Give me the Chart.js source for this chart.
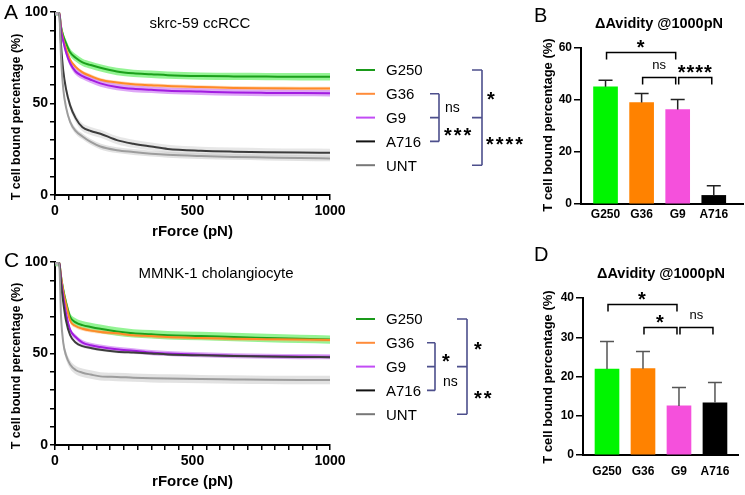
<!DOCTYPE html>
<html>
<head>
<meta charset="utf-8">
<script src="https://cdn.jsdelivr.net/npm/chart.js@4.4.1/dist/chart.umd.min.js"></script>
<style>
  body { margin: 0; background: #fff; }
  #page { position: relative; width: 745px; height: 495px; overflow: hidden; font-family: "Liberation Sans", Arial, sans-serif; }
  canvas { position: absolute; }
  #overlay { position: absolute; left: 0; top: 0; pointer-events: none; }
</style>
</head>
<body>
<div id="page">
  <canvas id="chartA" width="360" height="245" style="left:0;top:0"></canvas>
  <canvas id="chartC" width="360" height="245" style="left:0;top:250px"></canvas>
  <canvas id="chartB" width="215" height="245" style="left:530px;top:0"></canvas>
  <canvas id="chartD" width="215" height="245" style="left:530px;top:250px"></canvas>
  <svg id="overlay" width="745" height="495"></svg>
</div>
<script>
// rForce sample points (pN)
const forces = [0, 15, 22, 30, 40, 55, 75, 100, 130, 165, 225, 285, 350, 410, 530, 650, 770, 890, 1000];
const groups = ['G250', 'G36', 'G9', 'A716', 'UNT'];

// skrc-59 ccRCC - mean T cell bound (%)
const skrcG250 = [100, 100, 92, 87, 83, 78, 75, 72.5, 71, 69.5, 67.5, 66.5, 66, 65.5, 65, 64.8, 64.7, 64.6, 64.6];
const skrcG36  = [100, 100, 91, 85, 80, 74, 70, 67, 65, 63, 61.5, 60.5, 60, 59.5, 59, 58.5, 58.3, 58.2, 58.2];
const skrcG9   = [100, 100, 90, 84, 78, 72, 67.5, 65, 63, 61, 59, 58, 57.5, 57, 56.5, 56, 55.8, 55.7, 55.6];
const skrcA716 = [100, 100, 82, 68, 58, 49, 42, 37, 35, 33.5, 30, 28, 26.5, 25.2, 24.2, 23.7, 23.4, 23.2, 23.1];
const skrcUNT  = [100, 100, 75, 58, 48, 40, 35, 32, 29, 26.5, 24.5, 23.5, 22.6, 22, 21.3, 20.8, 20.5, 20.2, 20];
const skrcSem  = [2.0, 1.0, 1.8, 2.2, 1.6];

// MMNK-1 cholangiocyte - mean T cell bound (%)
const mmnkG250 = [100, 100, 92, 85, 78, 70, 67, 65.5, 64.5, 63.5, 62, 61, 60.5, 60, 59.6, 59, 58.5, 58, 57.6];
const mmnkG36  = [100, 100, 92, 84, 77, 68, 65, 63.5, 62.5, 61.8, 61, 60, 59.5, 59, 58.5, 58, 57.8, 57.6, 57.4];
const mmnkG9   = [100, 100, 90, 81, 72, 63, 59, 56, 54.5, 53.5, 52.3, 51.5, 50.5, 50, 49.3, 48.8, 48.5, 48.3, 48.2];
const mmnkA716 = [100, 100, 88, 78, 68, 60, 56, 54, 53, 52, 51, 50.5, 50, 49.5, 49, 48.6, 48.3, 48.1, 48];
const mmnkUNT  = [100, 100, 70, 56, 49, 44, 41, 39.5, 38.5, 37.5, 37.2, 36.8, 36.5, 36.3, 36, 35.8, 35.6, 35.5, 35.5];
const mmnkSem  = [2.3, 1.0, 1.4, 0.8, 2.3];

// delta avidity @1000pN
const barGroups = ['G250', 'G36', 'G9', 'A716'];
const skrcAvidity = [45.1, 39, 36.3, 3.3];
const skrcAvidityErr = [2.5, 3.5, 3.9, 3.7];
const mmnkAvidity = [21.9, 22, 12.5, 13.3];
const mmnkAvidityErr = [7, 4.4, 4.7, 5.2];

// significance brackets (bar index pairs, level in %, label)
const skrcPairs = [[0, 2], [1, 2], [2, 3]];
const skrcLevels = [58.5, 49, 49];
const skrcMarks = ['*', 'ns', '****'];
const mmnkPairs = [[0, 2], [1, 2], [2, 3]];
const mmnkLevels = [38.5, 32.6, 32.6];
const mmnkMarks = ['*', '*', 'ns'];

const lineColors = ['#1ba01b', '#ff8a28', '#a21ce0', '#3c3c3c', '#9d9d9d'];
const bandColors = ['rgba(60,235,60,0.55)', 'rgba(255,175,100,0.45)', 'rgba(195,95,240,0.55)', 'rgba(175,175,175,0.3)', 'rgba(190,190,190,0.45)'];
const legendColors = ['#1a9a1a', '#ff8c3a', '#c24cf5', '#111', '#777'];
const barColors = ['#00f500', '#ff8200', '#f550dc', '#000'];
const FONT = '"Liberation Sans", Arial, sans-serif';

Chart.defaults.font.family = FONT;
Chart.defaults.color = '#000';

function curveChart(id, means, sems) {
  const lines = [], bands = [];
  means.forEach((m, i) => {
    lines.push({ data: forces.map((f, j) => ({ x: f, y: m[j] })), borderColor: lineColors[i], borderWidth: 2,
      pointRadius: 0, fill: false, cubicInterpolationMode: 'monotone', order: 10 - i });
    bands.push({ data: forces.map((f, j) => ({ x: f, y: Math.min(100, m[j] + sems[i]) })), backgroundColor: bandColors[i],
      borderWidth: 0, pointRadius: 0, fill: '+1', cubicInterpolationMode: 'monotone', order: 30 - 2 * i });
    bands.push({ data: forces.map((f, j) => ({ x: f, y: m[j] - sems[i] })), borderWidth: 0, pointRadius: 0,
      fill: false, cubicInterpolationMode: 'monotone', order: 29 - 2 * i });
  });
  const axisGrid = { drawOnChartArea: false, color: '#000', tickLength: 5, lineWidth: 1.5 };
  return new Chart(document.getElementById(id), {
    type: 'line',
    data: { datasets: bands.concat(lines) },
    options: {
      responsive: false, animation: false,
      layout: { padding: { top: 12, right: 30, left: 0, bottom: 0 } },
      plugins: { legend: { display: false }, tooltip: { enabled: false } },
      scales: {
        x: {
          type: 'linear', min: 0, max: 1000,
          border: { color: '#000', width: 2 }, grid: axisGrid,
          ticks: { stepSize: 50, maxTicksLimit: 21, autoSkip: false, maxRotation: 0, padding: 3,
            font: { size: 14, weight: 'bold' }, callback: v => v % 500 === 0 ? v : '' },
          title: { display: true, text: 'rForce (pN)', font: { size: 15, weight: 'bold' }, padding: { top: 0, bottom: 4 } },
          afterFit: s => { s.height = 50; }
        },
        y: {
          min: 0, max: 100,
          border: { color: '#000', width: 2 }, grid: axisGrid,
          ticks: { stepSize: 10, maxTicksLimit: 11, autoSkip: false, padding: 2, font: { size: 14, weight: 'bold' },
            callback: v => v % 50 === 0 ? v : '' },
          afterFit: s => { s.width = 55; }
        }
      }
    }
  });
}

const errorBarPlugin = {
  id: 'errorBars',
  afterDatasetsDraw(chart, args, opts) {
    const { ctx } = chart;
    const y = chart.scales.y;
    const meta = chart.getDatasetMeta(0);
    ctx.save();
    ctx.strokeStyle = opts.color;
    ctx.lineWidth = 1.5;
    meta.data.forEach((bar, i) => {
      const top = y.getPixelForValue(opts.values[i] + opts.errors[i]);
      ctx.beginPath();
      ctx.moveTo(bar.x, bar.y);
      ctx.lineTo(bar.x, top);
      ctx.moveTo(bar.x - 7, top);
      ctx.lineTo(bar.x + 7, top);
      ctx.stroke();
    });
    ctx.restore();
  }
};

const bracketPlugin = {
  id: 'sigBrackets',
  afterDraw(chart, args, opts) {
    const { ctx } = chart;
    const { x, y } = chart.scales;
    ctx.save();
    ctx.strokeStyle = '#000';
    ctx.fillStyle = '#000';
    ctx.lineWidth = 1.5;
    ctx.textAlign = 'center';
    ctx.textBaseline = 'alphabetic';
    opts.pairs.forEach((p, i) => {
      const x1 = x.getPixelForValue(p[0]) + 1;
      const x2 = x.getPixelForValue(p[1]) - 2;
      const yy = Math.round(y.getPixelForValue(opts.levels[i])) + 0.5;
      ctx.beginPath();
      ctx.moveTo(x1, yy + 7);
      ctx.lineTo(x1, yy);
      ctx.lineTo(x2, yy);
      ctx.lineTo(x2, yy + 7);
      ctx.stroke();
      const mark = opts.marks[i];
      const cx = (x1 + x2) / 2;
      if (mark === 'ns') {
        ctx.font = '13px ' + FONT;
        ctx.fillText(mark, cx, yy - 12 + 3.5);
      } else {
        ctx.font = 'bold 20px ' + FONT;
        ctx.letterSpacing = '1px';
        ctx.fillText(mark, cx, yy - 10 + 11);
        ctx.letterSpacing = '0px';
      }
    });
    ctx.restore();
  }
};

function avidityChart(id, values, errs, yMax, yStep, xMin, xMax, pad, yWidth, xHeight, labelGap, pairs, levels, marks, errColor) {
  return new Chart(document.getElementById(id), {
    type: 'bar',
    data: { datasets: [{ data: values.map((v, i) => ({ x: i, y: v })), backgroundColor: barColors, barThickness: 24 }] },
    options: {
      responsive: false, animation: false,
      layout: { padding: pad },
      plugins: {
        legend: { display: false }, tooltip: { enabled: false },
        errorBars: { values: values, errors: errs, color: errColor },
        sigBrackets: { pairs: pairs, levels: levels, marks: marks }
      },
      scales: {
        x: {
          type: 'linear', min: xMin, max: xMax, offset: false,
          afterBuildTicks: s => { s.ticks = barGroups.map((g, i) => ({ value: i })); },
          border: { color: '#000', width: 2 },
          grid: { display: false, drawTicks: false, offset: false },
          ticks: { autoSkip: false, maxRotation: 0, padding: labelGap, font: { size: 12, weight: 'bold' },
            callback: v => barGroups[v] },
          afterFit: s => { s.height = xHeight; }
        },
        y: {
          min: 0, max: yMax,
          border: { color: '#000', width: 2 },
          grid: { drawOnChartArea: false, color: '#000', tickLength: 7, lineWidth: 1.5 },
          ticks: { stepSize: yStep, padding: 2, font: { size: 12, weight: 'bold' } },
          afterFit: s => { s.width = yWidth; }
        }
      }
    },
    plugins: [errorBarPlugin, bracketPlugin]
  });
}

curveChart('chartA', [skrcG250, skrcG36, skrcG9, skrcA716, skrcUNT], skrcSem);
curveChart('chartC', [mmnkG250, mmnkG36, mmnkG9, mmnkA716, mmnkUNT], mmnkSem);
avidityChart('chartB', skrcAvidity, skrcAvidityErr, 60, 20, -0.68, 3.81,
  { top: 48, right: 2, left: 0, bottom: 0 }, 51, 41, 3, skrcPairs, skrcLevels, skrcMarks, '#222');
avidityChart('chartD', mmnkAvidity, mmnkAvidityErr, 40, 10, -0.667, 3.64,
  { top: 48, right: 7, left: 0, bottom: 0 }, 53, 40, 9, mmnkPairs, mmnkLevels, mmnkMarks, '#555');

// overlay text, legends and legend brackets
const NS = 'http://www.w3.org/2000/svg';
const svg = document.getElementById('overlay');
function el(name, attrs, text) {
  const e = document.createElementNS(NS, name);
  Object.entries(attrs).forEach(([k, v]) => e.setAttribute(k, v));
  if (text !== undefined) e.textContent = text;
  svg.appendChild(e);
  return e;
}
function label(x, y, s, size, extra = {}) {
  return el('text', Object.assign({ x: x, y: y, 'font-size': size, 'font-family': FONT, fill: '#000' }, extra), s);
}
function stars(x, cy, s, size, spacing) {
  return label(x, cy + size * 0.56, s, size, { 'font-weight': 'bold', 'letter-spacing': spacing });
}
function yTitle(cx, cy, size) {
  label(0, 0, 'T cell bound percentage (%)', size, { 'font-weight': 'bold', 'text-anchor': 'middle',
    'dominant-baseline': 'central', transform: `translate(${cx},${cy}) rotate(-90)` });
}

// panel letters
label(4, 19, 'A', 21);
label(534, 22, 'B', 20);
label(4, 267, 'C', 21);
label(534, 261, 'D', 20);

// panel titles
label(200, 28, 'skrc-59 ccRCC', 15, { 'text-anchor': 'middle' });
label(216, 278, 'MMNK-1 cholangiocyte', 15, { 'text-anchor': 'middle' });
label(659, 28, 'ΔAvidity @1000pN', 14.5, { 'text-anchor': 'middle', 'font-weight': 'bold' });
label(661, 278, 'ΔAvidity @1000pN', 14.5, { 'text-anchor': 'middle', 'font-weight': 'bold' });

yTitle(16, 117, 12.5);
yTitle(16, 366, 12.5);
yTitle(547, 125, 13);
yTitle(547, 377, 13);

function legend(top) {
  groups.forEach((g, i) => {
    const y = top + i * 23.8;
    el('line', { x1: 356, x2: 375, y1: y, y2: y, stroke: legendColors[i], 'stroke-width': 2 });
    label(386, y + 5.3, g, 15);
  });
}
function bracket(x, y1, y2, ticks, len) {
  let d = `M${x},${y1} V${y2}`;
  ticks.forEach(t => { d += ` M${x - len},${t} H${x}`; });
  el('path', { d: d, stroke: '#4d4f8c', 'stroke-width': 1.6, fill: 'none' });
}

legend(70);
const rowA = i => 70 + i * 23.8;
bracket(439, rowA(1), rowA(3), [rowA(1), rowA(2), rowA(3)], 9);
bracket(482, rowA(0), rowA(4), [rowA(0), rowA(2), rowA(4)], 10);
label(445, 112, 'ns', 14);
stars(444, 131, '***', 20, 2);
stars(487, 95, '*', 20, 2);
stars(486, 140, '****', 20, 2);

legend(319);
const rowC = i => 319 + i * 23.8;
bracket(435, rowC(1), rowC(3), [rowC(1), rowC(2), rowC(3)], 8);
bracket(467, rowC(0), rowC(4), [rowC(0), rowC(2), rowC(4)], 10);
stars(442, 357, '*', 20, 2);
label(443, 386, 'ns', 14);
stars(474, 345, '*', 20, 2);
stars(474, 394, '**', 20, 2);
</script>
</body>
</html>
